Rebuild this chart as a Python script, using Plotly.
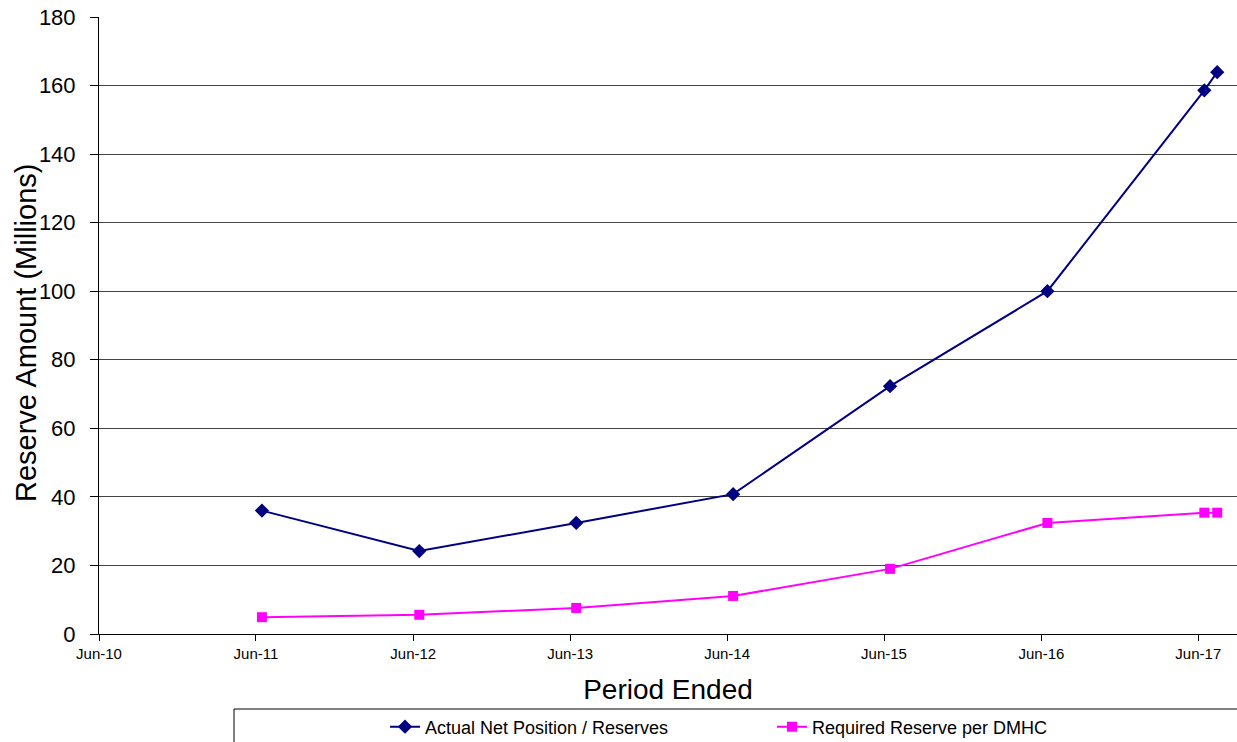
import plotly.graph_objects as go

# Reporting period end dates (two readings fall in 2017)
periods = ["2011-06-15", "2012-06-15", "2013-06-15", "2014-06-15",
           "2015-06-15", "2016-06-15", "2017-06-15", "2017-07-15"]
actual_reserves = [36.0, 24.2, 32.4, 40.8, 72.3, 100.0, 158.6, 163.9]
required_reserves = [4.9, 5.6, 7.6, 11.1, 19.0, 32.4, 35.4, 35.4]

tick_dates = ["2010-06-01", "2011-06-01", "2012-06-01", "2013-06-01",
              "2014-06-01", "2015-06-01", "2016-06-01", "2017-06-01"]
tick_labels = ["Jun-10", "Jun-11", "Jun-12", "Jun-13",
               "Jun-14", "Jun-15", "Jun-16", "Jun-17"]
y_ticks = [0, 20, 40, 60, 80, 100, 120, 140, 160, 180]

FONT = "Arial, Liberation Sans, sans-serif"
W, H = 1237, 742
ML, MT, MB, MR = 99, 17, 108, 0
plot_w = W - ML - MR
plot_h = H - MT - MB


def px_to_paper_x(px):
    return (px - ML) / plot_w


def px_to_paper_y(py):
    return (H - MB - py) / plot_h


fig = go.Figure()
fig.add_trace(go.Scatter(
    x=periods, y=actual_reserves, mode="lines+markers",
    name="Actual Net Position / Reserves",
    line=dict(color="#000080", width=2),
    marker=dict(symbol="diamond", size=11, color="#000080"),
    legend="legend",
))
fig.add_trace(go.Scatter(
    x=periods, y=required_reserves, mode="lines+markers",
    name="Required Reserve per DMHC",
    line=dict(color="#FF00FF", width=2),
    marker=dict(symbol="square", size=10, color="#FF00FF"),
    legend="legend2",
))

# Legend frame along the bottom
fig.add_shape(
    type="rect", xref="paper", yref="paper",
    x0=px_to_paper_x(234), x1=px_to_paper_x(1250),
    y0=px_to_paper_y(760), y1=px_to_paper_y(709),
    line=dict(color="black", width=1), fillcolor="white", layer="below",
)

# Vertical axis title
fig.add_annotation(
    text="Reserve Amount (Millions)", textangle=-90,
    xref="paper", yref="paper",
    x=px_to_paper_x(26), y=px_to_paper_y(333),
    xanchor="center", yanchor="middle", showarrow=False,
    font=dict(family=FONT, size=29, color="black"),
)

legend_font = dict(family=FONT, size=18, color="black")
fig.update_layout(
    width=W, height=H,
    margin=dict(l=ML, r=MR, t=MT, b=MB, autoexpand=False),
    paper_bgcolor="white", plot_bgcolor="white",
    font=dict(family=FONT, color="black"),
    showlegend=True,
    legend=dict(x=px_to_paper_x(385), y=px_to_paper_y(727), xanchor="left",
                yanchor="middle", bgcolor="rgba(0,0,0,0)", font=legend_font,
                orientation="h"),
    legend2=dict(x=px_to_paper_x(772), y=px_to_paper_y(727), xanchor="left",
                 yanchor="middle", bgcolor="rgba(0,0,0,0)", font=legend_font,
                 orientation="h"),
    xaxis=dict(
        type="date", range=["2010-06-01", "2017-08-30"],
        tickvals=tick_dates, ticktext=tick_labels,
        tickfont=dict(family=FONT, size=15),
        ticks="outside", ticklen=6, tickcolor="black",
        showline=True, linecolor="black", linewidth=1,
        showgrid=False, zeroline=False, automargin=False,
        title=dict(text="Period Ended", font=dict(family=FONT, size=28),
                   standoff=18),
    ),
    yaxis=dict(
        range=[0, 180], tickvals=y_ticks,
        tickfont=dict(family=FONT, size=22),
        ticks="outside", ticklen=8, tickcolor="black",
        ticklabelstandoff=10,
        showline=True, linecolor="black", linewidth=1,
        showgrid=True, gridcolor="#444444", gridwidth=1,
        zeroline=False, automargin=False,
    ),
)

fig.write_html("out.html")
